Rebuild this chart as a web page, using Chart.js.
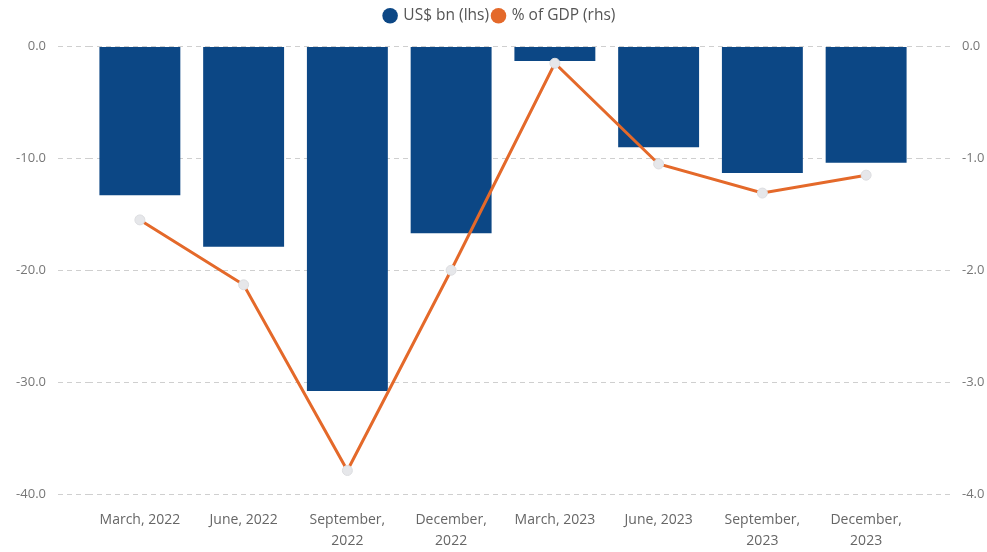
<!DOCTYPE html>
<html>
<head>
<meta charset="utf-8">
<script src="https://cdn.jsdelivr.net/npm/chart.js@4"></script>
<style>
    html, body { margin: 0; padding: 0; background: #fff; overflow: hidden; }
    #wrap { width: 1000px; height: 552px; }
</style>
</head>
<body>
<div id="wrap"><canvas id="balanceChart"></canvas></div>
<script>
// quarters on the x axis
const quarters = [
    'March, 2022', 'June, 2022', ['September,', '2022'], ['December,', '2022'],
    'March, 2023', 'June, 2023', ['September,', '2023'], ['December,', '2023']
];
// current account balance, US$ bn (left axis)
const usdBn = [-13.3, -17.9, -30.8, -16.7, -1.3, -9.0, -11.3, -10.4];
// current account balance, % of GDP (right axis)
const pctGdp = [-1.55, -2.13, -3.79, -2.0, -0.15, -1.05, -1.31, -1.15];

const leftTicks = [0, -10, -20, -30, -40];
const rightTicks = [0, -1, -2, -3, -4];

// push the plot down a bit under the legend
const legendSpace = {
    id: 'legendSpace',
    beforeInit(chart) {
        const origFit = chart.legend.fit;
        chart.legend.fit = function () {
            origFit.bind(chart.legend)();
            this.height += 13;
        };
    }
};

const ctx = document.getElementById('balanceChart').getContext('2d');
new Chart(ctx, {
    type: 'bar',
    data: {
        labels: quarters,
        datasets: [
            {
                type: 'line',
                label: '% of GDP (rhs)',
                data: pctGdp,
                yAxisID: 'yRight',
                borderColor: '#e4692a',
                backgroundColor: '#e4692a',
                borderWidth: 3,
                tension: 0,
                pointRadius: 5,
                pointBackgroundColor: '#e6e7ea',
                pointBorderColor: '#dcdde0',
                pointBorderWidth: 1,
                order: 0
            },
            {
                label: 'US$ bn (lhs)',
                data: usdBn,
                yAxisID: 'yLeft',
                backgroundColor: '#0c4785',
                barPercentage: 0.78,
                categoryPercentage: 1.0,
                order: 1
            }
        ]
    },
    plugins: [legendSpace],
    options: {
        responsive: true,
        maintainAspectRatio: false,
        animation: false,
        layout: { padding: { top: 4, bottom: 0, left: 0, right: 0 } },
        plugins: {
            legend: {
                position: 'top',
                labels: {
                    usePointStyle: true,
                    boxWidth: 11,
                    boxHeight: 11,
                    padding: 4,
                    color: '#555',
                    font: { family: 'Open Sans', size: 15.5 },
                    generateLabels: chart => [1, 0].map(i => {
                        const ds = chart.data.datasets[i];
                        const c = i === 0 ? '#e4692a' : '#0c4785';
                        return {
                            text: ds.label,
                            fillStyle: c,
                            strokeStyle: c,
                            lineWidth: 0,
                            pointStyle: 'circle',
                            datasetIndex: i,
                            fontColor: '#555'
                        };
                    })
                }
            },
            tooltip: { enabled: false }
        },
        scales: {
            x: {
                grid: { display: false, drawTicks: false },
                border: { display: false },
                afterFit: axis => { axis.height = 58; },
                ticks: {
                    color: '#666',
                    padding: 16,
                    maxRotation: 0,
                    autoSkip: false,
                    font: { family: 'Open Sans', size: 14, lineHeight: 1.5 }
                }
            },
            yLeft: {
                position: 'left',
                min: -40,
                max: 0,
                afterBuildTicks: axis => { axis.ticks = leftTicks.map(v => ({ value: v })); },
                afterFit: axis => { axis.width = 88; },
                grid: {
                    color: '#cfcfcf',
                    tickLength: 30,
                    tickColor: '#cfcfcf',
                    tickBorderDash: [5, 4]
                },
                border: { display: false, dash: [5, 4] },
                ticks: {
                    color: '#777',
                    padding: 12,
                    font: { family: 'Open Sans', size: 13 },
                    callback: v => v.toFixed(1)
                }
            },
            yRight: {
                position: 'right',
                min: -4,
                max: 0,
                afterBuildTicks: axis => { axis.ticks = rightTicks.map(v => ({ value: v })); },
                afterFit: axis => { axis.width = 82; },
                grid: {
                    drawOnChartArea: false,
                    tickLength: 36,
                    tickColor: '#cfcfcf',
                    tickBorderDash: [5, 4]
                },
                border: { display: false },
                ticks: {
                    color: '#777',
                    padding: 8,
                    font: { family: 'Open Sans', size: 13 },
                    callback: v => v.toFixed(1)
                }
            }
        }
    }
});
</script>
</body>
</html>
